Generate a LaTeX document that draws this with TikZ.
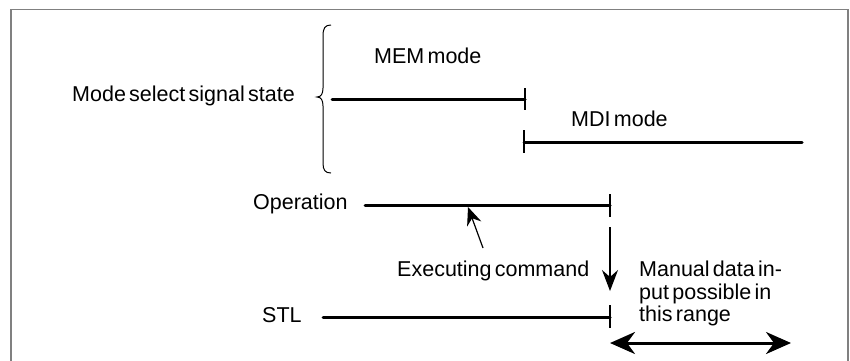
\documentclass[tikz,border=0pt]{standalone}
\usepackage{fontspec}
\setmainfont{Liberation Sans}[WordSpace=0.55]
\usetikzlibrary{arrows.meta}
\begin{document}
\begin{tikzpicture}[x=1pt,y=-1pt,
  lbl/.style={anchor=base west,inner sep=0pt,font=\fontsize{21.5}{22.5}\selectfont},
  sig/.style={line width=3pt,line cap=round},
  tick/.style={line width=1.2pt},
  thin/.style={line width=1.2pt},
  frame/.style={draw=black!50,line width=1.5pt}]
\useasboundingbox (0,0) rectangle (850,360);
\draw[frame] (11,362) -- (11,9.5) -- (848,9.5) -- (848,362);
% labels
\node[lbl] (mode) at (72,101) {Mode select signal state};
\node[lbl] (mem) at (374,63.5) {MEM mode};
\node[lbl] (mdi) at (571,126) {MDI mode};
\node[lbl] (op) at (253,209) {Operation};
\node[lbl] (exec) at (397,276) {Executing command};
\node[lbl] (stl) at (262,322) {STL};
\node[lbl,align=left,anchor=north west] (man) at (639,261) {Manual data in-\\put possible in\\this range};
% brace
\draw[line width=1pt] (331,25) .. controls (325,25) and (323,28) .. (323,36) -- (323,88)
  .. controls (323,94) and (321,97) .. (317,97)
  .. controls (321,97) and (323,100) .. (323,106) -- (323,163)
  .. controls (323,170) and (325,173) .. (331,173);
% coordinates
\coordinate (memA) at (332,99); \coordinate (memB) at (525,99);
\coordinate (mdiA) at (524,142); \coordinate (mdiB) at (802,142);
\coordinate (opA) at (365,205); \coordinate (opB) at (610,205);
\coordinate (stlA) at (323,317); \coordinate (stlB) at (610,317);
\coordinate (vA) at (610,227); \coordinate (vB) at (610,291);
\coordinate (eA) at (483,248); \coordinate (eB) at (468,207);
\coordinate (dA) at (610,343); \coordinate (dB) at (791,343);
% signals
\draw[sig] (memA) -- (memB);
\draw[tick] (525,88) -- (525,110);
\draw[sig] (mdiA) -- (mdiB);
\draw[tick] (524,130) -- (524,153);
\draw[sig] (opA) -- (opB);
\draw[tick] (610,194) -- (610,217);
\draw[sig] (stlA) -- (stlB);
\draw[tick] (610,305) -- (610,328);
% arrows
\draw[thin,-{Stealth[length=21pt,width=16pt,inset=7pt]}] (vA) -- (vB);
\draw[thin,-{Stealth[length=18pt,width=15pt,inset=6pt]}] (eA) -- (eB);
\draw[line width=3pt,{Stealth[length=25pt,width=22pt,inset=8pt]}-{Stealth[length=25pt,width=22pt,inset=8pt]}] (dA) -- (dB);
\end{tikzpicture}
\end{document}
